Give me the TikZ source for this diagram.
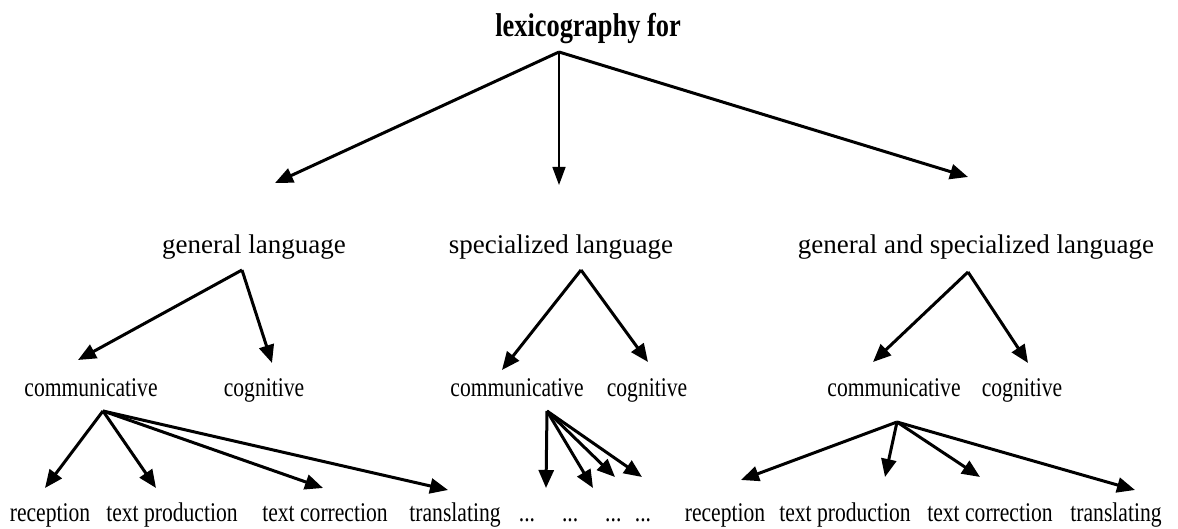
\documentclass[tikz,border=0pt]{standalone}
\usepackage{fontspec}
\setmainfont{Liberation Serif}
\newfontfamily\narrowserif[FakeStretch=0.8]{Liberation Serif}
\usetikzlibrary{arrows.meta}
\begin{document}
\begin{tikzpicture}[x=1bp,y=-1bp,
  label/.style={inner sep=0pt,anchor=base},
  rootlabel/.style={label,font=\narrowserif\bfseries\fontsize{33bp}{36bp}\selectfont},
  domlabel/.style={label,font=\fontsize{27bp}{30bp}\selectfont},
  funclabel/.style={label,font=\narrowserif\fontsize{27bp}{30bp}\selectfont},
  link/.style={line width=3bp,-{Triangle[length=18bp,width=15bp]}},
  thinlink/.style={line width=1.5bp,-{Triangle[length=18bp,width=13bp]}}]
\useasboundingbox (0,0) rectangle (1178,529);

% root
\node[rootlabel] (root) at (588,37) {lexicography for};

% kinds of language
\node[domlabel] (gen) at (254,254) {general language};
\node[domlabel] (spec) at (561,254) {specialized language};
\node[domlabel] (both) at (976,254) {general and specialized language};

% functions
\node[funclabel] (genCom) at (91,396) {communicative};
\node[funclabel] (genCog) at (264,396) {cognitive};
\node[funclabel] (specCom) at (517,396) {communicative};
\node[funclabel] (specCog) at (647,396) {cognitive};
\node[funclabel] (bothCom) at (894,396) {communicative};
\node[funclabel] (bothCog) at (1022,396) {cognitive};

% situations
\node[funclabel] (gRec) at (50,521) {reception};
\node[funclabel] (gProd) at (172,521) {text production};
\node[funclabel] (gCorr) at (325,521) {text correction};
\node[funclabel] (gTrans) at (455,521) {translating};
\node[funclabel] (sDots) at (585,521) {...\quad...\quad...\enspace...};
\node[funclabel] (bRec) at (725,521) {reception};
\node[funclabel] (bProd) at (845,521) {text production};
\node[funclabel] (bCorr) at (990,521) {text correction};
\node[funclabel] (bTrans) at (1116,521) {translating};

% fan origins
\coordinate (rootFan) at (559,52);
\coordinate (genFan) at (242,270);
\coordinate (specFan) at (581,270);
\coordinate (bothFan) at (968,272);
\coordinate (genComFan) at (103,411);
\coordinate (specComFan) at (547,411);
\coordinate (bothComFan) at (897,422);

% arrow ends
\coordinate (genIn) at (275,183);
\coordinate (specIn) at (559,185);
\coordinate (bothIn) at (968,177);
\coordinate (genComIn) at (78,360);
\coordinate (genCogIn) at (272,363);
\coordinate (specComIn) at (502,370);
\coordinate (specCogIn) at (648,362);
\coordinate (bothComIn) at (873,362);
\coordinate (bothCogIn) at (1028,363);
\coordinate (gRecIn) at (45,488);
\coordinate (gProdIn) at (156,488);
\coordinate (gCorrIn) at (323,488);
\coordinate (gTransIn) at (448,490);
\coordinate (sOneIn) at (546,488);
\coordinate (sTwoIn) at (593,488);
\coordinate (sThreeIn) at (615,477);
\coordinate (sFourIn) at (642,477);
\coordinate (bRecIn) at (741,480);
\coordinate (bProdIn) at (885,477);
\coordinate (bCorrIn) at (980,477);
\coordinate (bTransIn) at (1135,490);

% connectors
\draw[link] (rootFan) -- (genIn);
\draw[thinlink] (rootFan) -- (specIn);
\draw[link] (rootFan) -- (bothIn);

\draw[link] (genFan) -- (genComIn);
\draw[link] (genFan) -- (genCogIn);
\draw[link] (specFan) -- (specComIn);
\draw[link] (specFan) -- (specCogIn);
\draw[link] (bothFan) -- (bothComIn);
\draw[link] (bothFan) -- (bothCogIn);

\draw[link] (genComFan) -- (gRecIn);
\draw[link] (genComFan) -- (gProdIn);
\draw[link] (genComFan) -- (gCorrIn);
\draw[link] (genComFan) -- (gTransIn);

\draw[link] (specComFan) -- (sOneIn);
\draw[link] (specComFan) -- (sTwoIn);
\draw[link] (specComFan) -- (sThreeIn);
\draw[link] (specComFan) -- (sFourIn);

\draw[link] (bothComFan) -- (bRecIn);
\draw[link] (bothComFan) -- (bProdIn);
\draw[link] (bothComFan) -- (bCorrIn);
\draw[link] (bothComFan) -- (bTransIn);
\end{tikzpicture}
\end{document}
